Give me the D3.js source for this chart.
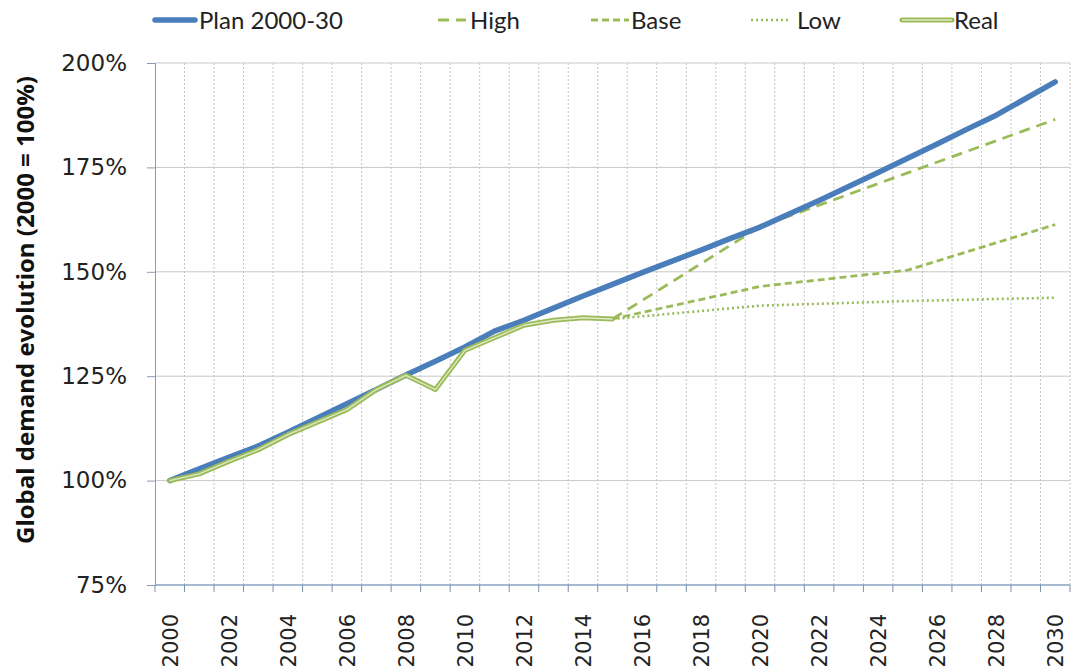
<!DOCTYPE html>
<html>
<head>
<meta charset="utf-8">
<script src="https://cdn.jsdelivr.net/npm/d3@7"></script>
<style>
  html, body { margin: 0; padding: 0; background: #ffffff; }
  svg { display: block; }
</style>
</head>
<body>
<svg id="chart" width="1072" height="670"></svg>
<script>
// Global demand index, 2000 = 100%
const years = d3.range(2000, 2031);
const planValues = [100, 102.8, 105.6, 108.3, 111.6, 115.0, 118.4, 121.8, 125.3, 128.6, 132.0, 135.8, 138.4, 141.3, 144.2, 147.0, 149.8, 152.5, 155.2, 158.0, 160.7, 163.9, 167.1, 170.4, 173.8, 177.2, 180.6, 184.1, 187.5, 191.5, 195.5];
const realYears = d3.range(2000, 2016);
const realValues = [100, 101.6, 104.6, 107.4, 111.0, 114.0, 117.0, 121.8, 125.2, 121.8, 131.2, 134.2, 137.2, 138.4, 139.0, 138.7];
const scenarioYears = [2015, 2020, 2025, 2030];
const highValues = [138.7, 160.8, 173.7, 186.5];
const baseValues = [138.7, 146.5, 150.4, 161.3];
const lowValues = [138.7, 141.9, 143.0, 143.8];
const yTicks = [75, 100, 125, 150, 175, 200];
const xLabelYears = years.filter(y => y % 2 === 0);
const legendLabels = ["Plan 2000-30", "High", "Base", "Low", "Real"];
const yTitle = "Global demand evolution (2000 = 100%)";

const svg = d3.select("#chart");
const plotLeft = 155, plotRight = 1070, plotTop = 63, plotBottom = 585;

const x = d3.scalePoint().domain(years).range([plotLeft, plotRight]).padding(0.5);
const band = d3.scaleBand().domain(years).range([plotLeft, plotRight]);
const y = d3.scaleLinear().domain([75, 200]).range([plotBottom, plotTop]);

const green = "#9bbb59";
const blue = "#4a7ebb";

// horizontal gridlines
svg.append("g").selectAll("line")
  .data(yTicks.filter(t => t > 75))
  .join("line")
  .attr("x1", plotLeft).attr("x2", plotRight)
  .attr("y1", d => y(d)).attr("y2", d => y(d))
  .attr("stroke", "#c8c8c8").attr("stroke-width", 1);

// vertical dotted gridlines at category boundaries
const boundaries = years.map(yr => band(yr)).concat([plotRight]).slice(1);
svg.append("g").selectAll("line")
  .data(boundaries)
  .join("line")
  .attr("x1", d => d).attr("x2", d => d)
  .attr("y1", plotTop).attr("y2", plotBottom)
  .attr("stroke", "#c4c4c4").attr("stroke-width", 1)
  .attr("stroke-dasharray", "2,2");

// y axis
const yAxis = d3.axisLeft(y).tickValues(yTicks).tickFormat(d => d + "%").tickSize(8).tickPadding(20);
const gy = svg.append("g").attr("transform", `translate(${plotLeft},0)`).call(yAxis);
gy.select(".domain").attr("stroke", "#8a9db5");
gy.selectAll(".tick line").attr("stroke", "#8a9db5");
gy.selectAll(".tick text")
  .attr("font-family", "DejaVu Sans, Verdana, sans-serif")
  .attr("font-size", 23).attr("fill", "#222");

// x axis: ticks at category boundaries, labels on even years
svg.append("line")
  .attr("x1", plotLeft).attr("x2", plotRight).attr("y1", plotBottom).attr("y2", plotBottom)
  .attr("stroke", "#86a3c3").attr("stroke-width", 1.5);
svg.append("g").selectAll("line")
  .data(years.map(yr => band(yr)).concat([plotRight]))
  .join("line")
  .attr("x1", d => d).attr("x2", d => d)
  .attr("y1", plotBottom).attr("y2", plotBottom + 7)
  .attr("stroke", "#7a8ea6");
const xAxis = d3.axisBottom(x).tickValues(xLabelYears).tickSize(0).tickPadding(0);
const gx = svg.append("g").attr("transform", `translate(0,${plotBottom})`).call(xAxis);
gx.select(".domain").remove();
gx.selectAll(".tick text")
  .attr("font-family", "DejaVu Sans, Verdana, sans-serif")
  .attr("font-size", 21).attr("fill", "#222")
  .attr("text-anchor", "end")
  .attr("y", 0)
  .attr("dy", "0.35em")
  .attr("transform", "translate(0,29) rotate(-90)");

// y axis title
svg.append("text")
  .attr("transform", "translate(34,310) rotate(-90)")
  .attr("text-anchor", "middle")
  .attr("font-family", "Open Sans, sans-serif")
  .attr("font-weight", "bold")
  .attr("font-size", 24)
  .attr("fill", "#111")
  .text(yTitle);

const lineGen = d3.line().x(d => x(d[0])).y(d => y(d[1]));

// scenario lines
const scenarios = [
  { vals: highValues, dash: "11,7", width: 2.8 },
  { vals: baseValues, dash: "7,4", width: 2.8 },
  { vals: lowValues, dash: "2,3", width: 2.6 }
];
scenarios.forEach(s => {
  svg.append("path")
    .datum(scenarioYears.map((yr, i) => [yr, s.vals[i]]))
    .attr("d", lineGen)
    .attr("fill", "none")
    .attr("stroke", green)
    .attr("stroke-width", s.width)
    .attr("stroke-dasharray", s.dash);
});

// plan line
svg.append("path")
  .datum(years.map((yr, i) => [yr, planValues[i]]))
  .attr("d", lineGen)
  .attr("fill", "none")
  .attr("stroke", blue)
  .attr("stroke-width", 5.5)
  .attr("stroke-linejoin", "round")
  .attr("stroke-linecap", "round");

// real line (double stroke)
const realData = realYears.map((yr, i) => [yr, realValues[i]]);
svg.append("path")
  .datum(realData).attr("d", lineGen)
  .attr("fill", "none").attr("stroke", green)
  .attr("stroke-width", 5).attr("stroke-linejoin", "round").attr("stroke-linecap", "round");
svg.append("path")
  .datum(realData).attr("d", lineGen)
  .attr("fill", "none").attr("stroke", "#dfe9c6")
  .attr("stroke-width", 1.3).attr("stroke-linejoin", "round");

// legend
const legendItems = [
  { x0: 155, x1: 195, tx: 199, color: blue, width: 5.5, dash: null },
  { x0: 438, x1: 466, tx: 470, color: green, width: 2.8, dash: "11,7" },
  { x0: 591, x1: 629, tx: 631, color: green, width: 2.8, dash: "7,4" },
  { x0: 751, x1: 789, tx: 797, color: green, width: 2.6, dash: "2,3" },
  { x0: 902, x1: 952, tx: 954, color: green, width: 5, dash: null, dbl: true }
];
const lg = svg.append("g");
legendItems.forEach((it, i) => {
  const ly = 20;
  lg.append("line")
    .attr("x1", it.x0).attr("x2", it.x1).attr("y1", ly).attr("y2", ly)
    .attr("stroke", it.color).attr("stroke-width", it.width)
    .attr("stroke-dasharray", it.dash)
    .attr("stroke-linecap", it.dash ? "butt" : "round");
  if (it.dbl) {
    lg.append("line")
      .attr("x1", it.x0).attr("x2", it.x1).attr("y1", ly).attr("y2", ly)
      .attr("stroke", "#dfe9c6").attr("stroke-width", 1.3);
  }
  lg.append("text")
    .attr("x", it.tx).attr("y", ly)
    .attr("dy", "0.36em")
    .attr("font-family", "Lato, sans-serif")
    .attr("font-size", 24)
    .attr("fill", "#222")
    .text(legendLabels[i]);
});
</script>
</body>
</html>
